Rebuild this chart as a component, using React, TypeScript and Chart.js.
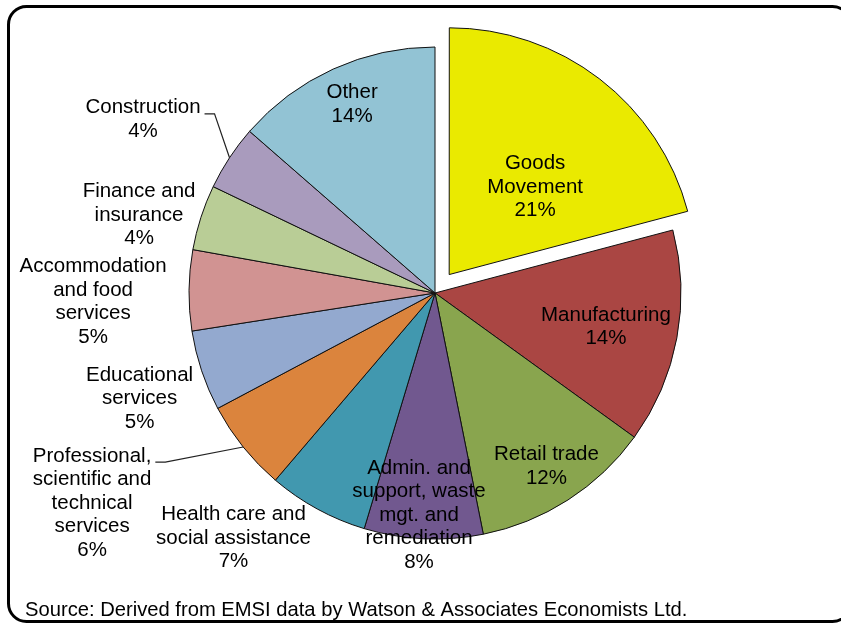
import React, { useEffect, useRef } from 'react';
import { Chart, registerables } from 'chart.js';

Chart.register(...registerables);

// ---- data ----
const categories: string[] = [
  'Goods\nMovement',
  'Manufacturing',
  'Retail trade',
  'Admin. and\nsupport, waste\nmgt. and\nremediation',
  'Health care and\nsocial assistance',
  'Professional,\nscientific and\ntechnical\nservices',
  'Educational\nservices',
  'Accommodation\nand food\nservices',
  'Finance and\ninsurance',
  'Construction',
  'Other',
];
const shares: number[] = [20.9, 14.1, 11.9, 7.8, 6.6, 6.0, 5.3, 5.3, 4.3, 4.3, 13.6];
const sourceNote = 'Source: Derived from EMSI data by Watson & Associates Economists Ltd.';

// ---- styles ----
const sliceColors: string[] = [
  '#EAEA00', '#AA4643', '#89A54E', '#71588F', '#4198AF', '#DB843D',
  '#93A9CF', '#D19392', '#B9CD96', '#A99BBD', '#92C3D4',
];
const explodeOffsets: number[] = [93, 0, 0, 0, 0, 0, 0, 0, 0, 0, 0];
// label block centre relative to pie centre, in units of the outer radius
const labelPlacement: { fx: number; fy: number; leader?: boolean }[] = [
  { fx: 0.407, fy: -0.431 },
  { fx: 0.695, fy: 0.138 },
  { fx: 0.453, fy: 0.705 },
  { fx: -0.065, fy: 0.902 },
  { fx: -0.819, fy: 0.996 },
  { fx: -1.394, fy: 0.854, leader: true },
  { fx: -1.201, fy: 0.429 },
  { fx: -1.390, fy: 0.035 },
  { fx: -1.203, fy: -0.317 },
  { fx: -1.187, fy: -0.705, leader: true },
  { fx: -0.337, fy: -0.766 },
];
const FONT = '20.5px "Liberation Sans", Arial, sans-serif';
const SOURCE_FONT = '20.2px "Liberation Sans", Arial, sans-serif';
const LINE_H = 23.5;

const decorPlugin = {
  id: 'decor',
  beforeDraw(chart: any) {
    const ctx: CanvasRenderingContext2D = chart.ctx;
    ctx.save();
    ctx.fillStyle = '#ffffff';
    ctx.fillRect(0, 0, chart.width, chart.height);
    ctx.beginPath();
    (ctx as any).roundRect(8.5, 6.5, 842, 615, 18);
    ctx.lineWidth = 3;
    ctx.strokeStyle = '#000000';
    ctx.stroke();
    ctx.font = SOURCE_FONT;
    ctx.fillStyle = '#000000';
    ctx.textAlign = 'left';
    ctx.textBaseline = 'middle';
    ctx.fillText(sourceNote, 25, 610);
    ctx.restore();
  },
  afterDatasetsDraw(chart: any) {
    const ctx: CanvasRenderingContext2D = chart.ctx;
    const meta = chart.getDatasetMeta(0);
    const total = shares.reduce((a, b) => a + b, 0);
    ctx.save();
    ctx.font = FONT;
    ctx.fillStyle = '#000000';
    ctx.textAlign = 'center';
    ctx.textBaseline = 'middle';
    meta.data.forEach((arc: any, i: number) => {
      const { x, y, outerRadius, startAngle, endAngle } = arc.getProps(
        ['x', 'y', 'outerRadius', 'startAngle', 'endAngle'],
        true
      );
      const p = labelPlacement[i];
      const cx = x + p.fx * outerRadius;
      const cy = y + p.fy * outerRadius;
      const lines = categories[i].split('\n').concat([Math.round((shares[i] / total) * 100) + '%']);
      const y0 = cy - ((lines.length - 1) / 2) * LINE_H;
      lines.forEach((ln, k) => ctx.fillText(ln, cx, y0 + k * LINE_H));
      if (p.leader) {
        const mid = (startAngle + endAngle) / 2;
        const rx = x + Math.cos(mid) * outerRadius;
        const ry = y + Math.sin(mid) * outerRadius;
        const right = cx + ctx.measureText(lines[0]).width / 2;
        const ly = y0 + 6;
        ctx.beginPath();
        ctx.moveTo(right + 4, ly);
        ctx.lineTo(right + 14, ly);
        ctx.lineTo(rx, ry);
        ctx.lineWidth = 1.2;
        ctx.strokeStyle = '#222222';
        ctx.stroke();
      }
    });
    ctx.restore();
  },
};

export default function App() {
  const ref = useRef<HTMLCanvasElement | null>(null);
  useEffect(() => {
    if (!ref.current) return;
    const chart = new Chart(ref.current, {
      type: 'pie',
      data: {
        labels: categories.map((c) => c.replace(/\n/g, ' ')),
        datasets: [
          {
            data: shares,
            backgroundColor: sliceColors,
            borderColor: '#111111',
            borderWidth: 1,
            offset: explodeOffsets,
            hoverOffset: 0,
            radius: 246,
          } as any,
        ],
      },
      options: {
        responsive: false,
        animation: false,
        events: [],
        layout: { padding: { left: 29, right: 0, top: 0, bottom: 38 } },
        plugins: { legend: { display: false }, tooltip: { enabled: false } },
      } as any,
      plugins: [decorPlugin],
    });
    return () => chart.destroy();
  }, []);
  return (
    <div style={{ position: 'fixed', left: 0, top: 0, width: 841, height: 624, background: '#fff' }}>
      <canvas ref={ref} width={841} height={624} style={{ display: 'block' }} />
    </div>
  );
}
